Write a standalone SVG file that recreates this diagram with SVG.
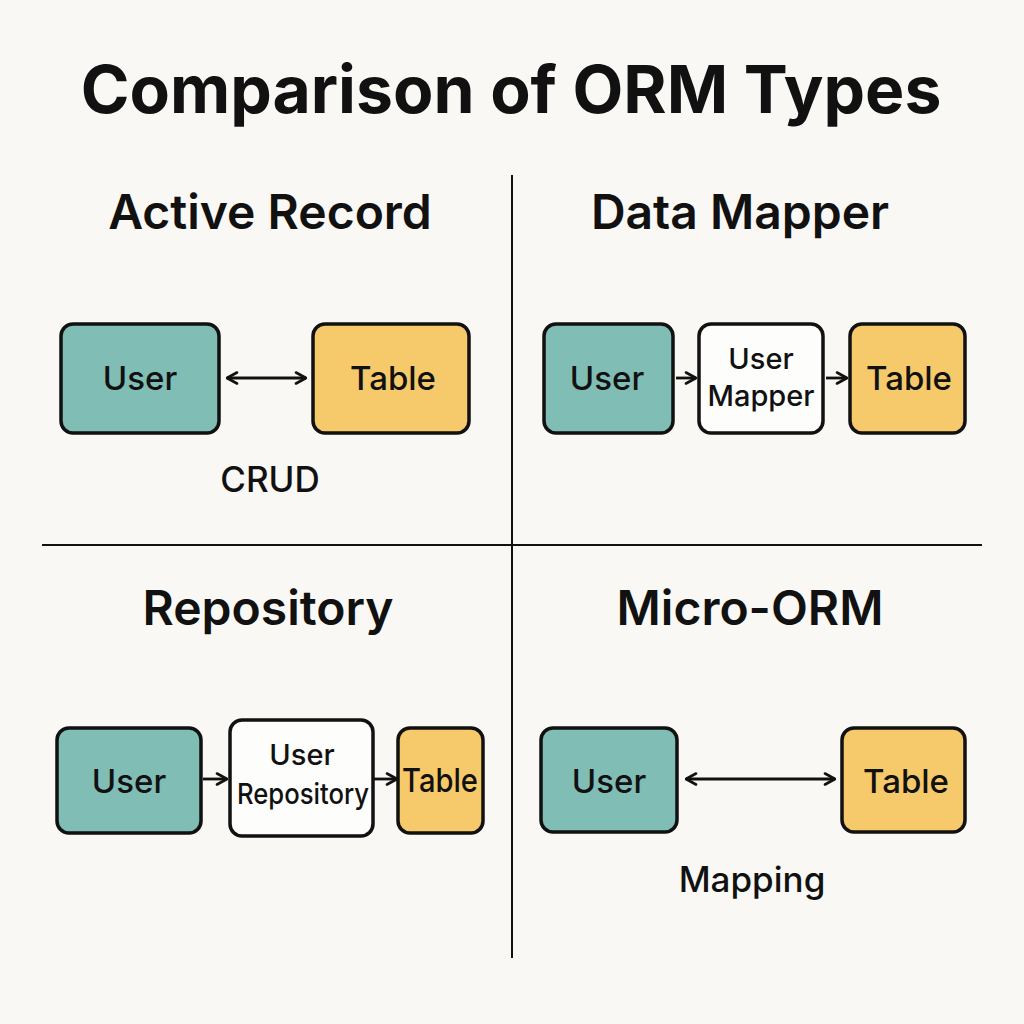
<svg xmlns="http://www.w3.org/2000/svg" width="1024" height="1024" viewBox="0 0 1024 1024">
<defs>
<marker id="ah" viewBox="0 0 14 14" refX="13" refY="7" markerWidth="14" markerHeight="14" markerUnits="userSpaceOnUse" orient="auto-start-reverse">
<path d="M3,1.5 L13,7 L3,12.5" fill="none" stroke="#111" stroke-width="2.6" stroke-linecap="round" stroke-linejoin="round"/>
</marker>
<style>
.bg{fill:#f9f8f4}
.box{stroke:#111;stroke-width:3.5}
.teal{fill:#7fbdb5}
.yel{fill:#f6c96b}
.wht{fill:#fdfdfb}
text{font-family:Inter,"Noto Sans","Liberation Sans",sans-serif;fill:#111;text-anchor:middle}
.title{font-size:66px;font-weight:700}
.head{font-size:48px;font-weight:600}
.lbl{font-size:33px;font-weight:500}
.sm{font-size:29px;font-weight:500}
.cap{font-size:35px;font-weight:500}
.conn{stroke:#111;stroke-width:2.8;fill:none}
.div{stroke:#111;stroke-width:2}
</style>
</defs>
<rect class="bg" width="1024" height="1024"/>
<text class="title" x="511" y="113">Comparison of ORM Types</text>
<g id="dividers">
<line class="div" x1="512" y1="175" x2="512" y2="958"/>
<line class="div" x1="42" y1="545" x2="982" y2="545"/>
</g>
<text class="head" x="270" y="229">Active Record</text>
<text class="head" x="740" y="229">Data Mapper</text>
<text class="head" x="268" y="625">Repository</text>
<text class="head" x="750" y="625">Micro-ORM</text>
<g id="ar-user"><rect class="box teal" x="61" y="324" width="158" height="109" rx="12"/><text class="lbl" x="140" y="390">User</text></g>
<g id="ar-table"><rect class="box yel" x="313" y="324" width="156" height="109" rx="12"/><text class="lbl" x="393" y="390">Table</text></g>
<text class="cap" x="270" y="492">CRUD</text>
<g id="dm-user"><rect class="box teal" x="544" y="324" width="129" height="109" rx="12"/><text class="lbl" x="607" y="390">User</text></g>
<g id="dm-mapper"><rect class="box wht" x="699" y="324" width="124" height="109" rx="12"/><text class="sm" x="761" y="369">User</text><text class="sm" x="761" y="406">Mapper</text></g>
<g id="dm-table"><rect class="box yel" x="850" y="324" width="115" height="109" rx="12"/><text class="lbl" x="909" y="390">Table</text></g>
<g id="rp-user"><rect class="box teal" x="57" y="728" width="144" height="105" rx="12"/><text class="lbl" x="129" y="793">User</text></g>
<g id="rp-repo"><rect class="box wht" x="230" y="720" width="143" height="116" rx="12"/><text class="sm" x="302" y="765">User</text><text class="sm" x="303" y="804" textLength="132" lengthAdjust="spacingAndGlyphs">Repository</text></g>
<g id="rp-table"><rect class="box yel" x="398" y="728" width="85" height="105" rx="12"/><text class="lbl" x="440" y="792" textLength="76" lengthAdjust="spacingAndGlyphs">Table</text></g>
<g id="mo-user"><rect class="box teal" x="541" y="728" width="136" height="104" rx="12"/><text class="lbl" x="609" y="793">User</text></g>
<g id="mo-table"><rect class="box yel" x="842" y="728" width="123" height="104" rx="12"/><text class="lbl" x="906" y="793">Table</text></g>
<text class="cap" x="752" y="892">Mapping</text>
<g id="connectors">
<line class="conn" x1="227" y1="378" x2="306" y2="378" marker-start="url(#ah)" marker-end="url(#ah)"/>
<line class="conn" x1="676" y1="378" x2="696" y2="378" marker-end="url(#ah)"/>
<line class="conn" x1="826" y1="378" x2="847" y2="378" marker-end="url(#ah)"/>
<line class="conn" x1="203" y1="779" x2="227" y2="779" marker-end="url(#ah)"/>
<line class="conn" x1="374" y1="779" x2="397" y2="779" marker-end="url(#ah)"/>
<line class="conn" x1="686" y1="779" x2="835" y2="779" marker-start="url(#ah)" marker-end="url(#ah)"/>
</g>
</svg>
